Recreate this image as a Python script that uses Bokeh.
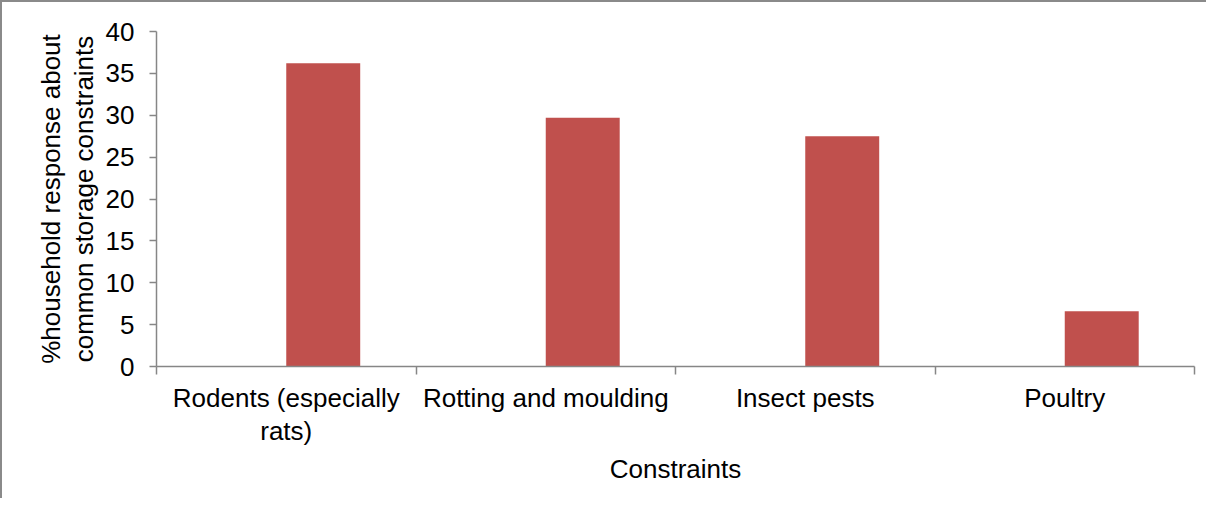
from bokeh.plotting import figure
from bokeh.models import Range1d, FixedTicker, ColumnDataSource
from bokeh.embed import file_html
from bokeh.resources import INLINE

categories = ["Rodents (especially\nrats)", "Rotting and moulding", "Insect pests", "Poultry"]
values = [36.2, 29.7, 27.5, 6.6]
y_ticks = [0, 5, 10, 15, 20, 25, 30, 35, 40]

FONT = "Liberation Sans"
FS = "26px"
AXIS_COLOR = "#868686"
BAR_COLOR = "#C0504D"

n = len(categories)
idx = list(range(n))
bar_w = 0.285
src = ColumnDataSource(dict(x=[i + bar_w / 2 for i in idx], top=values))

p = figure(width=1206, height=498, output_backend="svg", toolbar_location=None,
           x_range=Range1d(-0.5, n - 0.5), y_range=Range1d(0, 40),
           min_border_left=154, min_border_top=29, min_border_right=14, min_border_bottom=134)
p.outline_line_color = None
p.grid.visible = False
p.styles = {"border-left": "2px solid #8a8a8a", "border-top": "2px solid #8a8a8a"}

p.vbar(x="x", top="top", width=bar_w, source=src, fill_color=BAR_COLOR, line_color=None)

xa = p.xaxis[0]
xa.ticker = FixedTicker(ticks=idx, minor_ticks=[i - 0.5 for i in range(n + 1)])
xa.major_label_overrides = {i: c for i, c in enumerate(categories)}
xa.major_tick_line_color = None
xa.major_tick_out = 0
xa.minor_tick_out = 8
xa.minor_tick_in = 0
xa.minor_tick_line_color = AXIS_COLOR
xa.minor_tick_line_width = 1.5
xa.axis_line_color = AXIS_COLOR
xa.axis_line_width = 1.5
xa.major_label_standoff = 8
xa.major_label_text_font = FONT
xa.major_label_text_font_size = FS
xa.major_label_text_color = "black"
xa.major_label_text_line_height = 1.1
xa.axis_label = "Constraints"
xa.axis_label_text_font = FONT
xa.axis_label_text_font_size = FS
xa.axis_label_text_font_style = "normal"
xa.axis_label_text_color = "black"
xa.axis_label_standoff = 5

ya = p.yaxis[0]
ya.ticker = FixedTicker(ticks=y_ticks, minor_ticks=[])
ya.major_tick_out = 7
ya.major_tick_in = 0
ya.major_tick_line_color = AXIS_COLOR
ya.major_tick_line_width = 1.5
ya.axis_line_color = AXIS_COLOR
ya.axis_line_width = 1.5
ya.major_label_standoff = 15
ya.major_label_text_font = FONT
ya.major_label_text_font_size = FS
ya.major_label_text_color = "black"
ya.axis_label = "%household response about\ncommon storage constraints"
ya.axis_label_text_font = FONT
ya.axis_label_text_font_size = FS
ya.axis_label_text_font_style = "normal"
ya.axis_label_text_color = "black"
ya.axis_label_text_line_height = 1.1
ya.axis_label_standoff = 4

open("out.html", "w").write(file_html(p, INLINE))
